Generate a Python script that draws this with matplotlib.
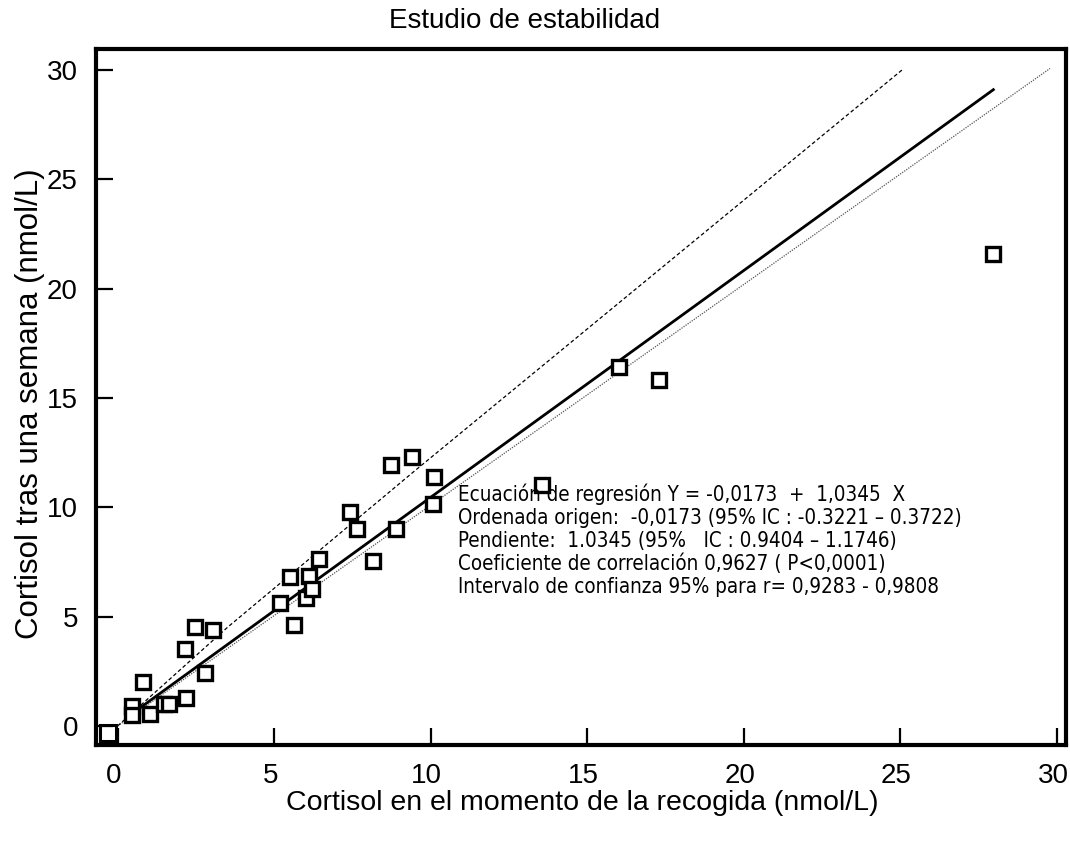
import matplotlib
matplotlib.use("Agg")
import matplotlib.pyplot as plt
import matplotlib.transforms as mtransforms
from matplotlib import font_manager

# ---- data ----
x_vals = [0.46, 0.46, 0.81, 1.04, 1.47, 1.64, 2.17, 2.14, 2.46, 3.05, 2.78,
          5.20, 5.50, 5.63, 6.01, 6.10, 6.22, 6.43, 7.41, 7.63, 8.16, 8.72,
          8.90, 9.39, 10.07, 10.11, 13.54, 16.02, 17.29, 27.97]
y_vals = [0.91, 0.50, 2.01, 0.53, 0.99, 0.99, 1.29, 3.51, 4.54, 4.39, 2.44,
          5.61, 6.80, 4.62, 5.84, 6.87, 6.25, 7.62, 9.80, 9.01, 7.56, 11.93,
          9.01, 12.29, 10.14, 11.40, 11.02, 16.40, 15.82, 21.58]
corner_x = [-0.30]
corner_y = [-0.30]

reg_x = [0.40, 27.97]
reg_y = [0.50, 29.10]
upper_x = [0.0, 3.5, 9.39, 25.07]
upper_y = [0.0, 4.5, 11.55, 30.02]
ident_x = [0.0, 29.78]
ident_y = [0.0, 30.07]

xticks = [0, 5, 10, 15, 20, 25, 30]
yticks = [0, 5, 10, 15, 20, 25, 30]

title = "Estudio de estabilidad"
xlabel = "Cortisol en el momento de la recogida (nmol/L)"
ylabel = "Cortisol tras una semana (nmol/L)"
annot_lines = [
    "Ecuación de regresión Y = -0,0173  +  1,0345  X",
    "Ordenada origen:  -0,0173 (95% IC : -0.3221 \u2013 0.3722)",
    "Pendiente:  1.0345 (95%   IC : 0.9404 \u2013 1.1746)",
    "Coeficiente de correlación 0,9627 ( P<0,0001)",
    "Intervalo de confianza 95% para r= 0,9283 - 0,9808",
]

plt.rcParams['font.family'] = ['Liberation Sans', 'DejaVu Sans']

names = {f.name for f in font_manager.fontManager.ttflist}
if 'Liberation Sans Narrow' in names:
    annot_family = ['Liberation Sans Narrow', 'DejaVu Sans']
    annot_kw = dict(fontsize=16.5)
else:
    annot_family = ['DejaVu Sans']
    annot_kw = dict(fontsize=14.8, fontstretch='condensed')

fig = plt.figure(figsize=(10.70, 8.46), dpi=100)
ax = fig.add_axes([96/1070, 1-745/846, (1066-96)/1070, (745-49)/846])

ax.set_xlim(-0.69, 30.29)
ax.set_ylim(-0.87, 30.96)

ax.plot(ident_x, ident_y, color='#555555', lw=0.9, ls=(0, (1, 1)), zorder=2)
ax.plot(upper_x, upper_y, color='black', lw=0.9, ls=(0, (3, 2)), zorder=2)
ax.plot(reg_x, reg_y, color='black', lw=2.0, zorder=3)
ax.plot(x_vals, y_vals, ls='none', marker='s', ms=10.5, mfc='white',
        mec='black', mew=2.4, zorder=4)
ax.plot(corner_x, corner_y, ls='none', marker='s', ms=12, mfc='white',
        mec='black', mew=2.2, zorder=1)

for s in ax.spines.values():
    s.set_linewidth(3)
    s.set_zorder(5)
ax.set_xticks(xticks)
ax.set_yticks(yticks)
ax.tick_params(direction='in', length=12, width=1.6, labelsize=20)
ax.tick_params(axis='x', pad=13)
ax.tick_params(axis='y', pad=13)
offset = mtransforms.ScaledTranslation(-4/100, 0, fig.dpi_scale_trans)
for lab in ax.get_xticklabels():
    lab.set_transform(lab.get_transform() + offset)

fig.text(525/1070, 1-21/846, title, ha='center', va='center', fontsize=20)
fig.text(582/1070, 1-803/846, xlabel, ha='center', va='center', fontsize=20.5)
fig.text(30/1070, 1-404/846, ylabel, ha='center', va='center', fontsize=22.5,
         rotation=90)

ys = [494, 518, 541, 564, 587]
for t, yy in zip(annot_lines, ys):
    fig.text(458/1070, 1-yy/846, t, ha='left', va='center',
             family=annot_family, zorder=10, **annot_kw)

fig.savefig("out.png", dpi=100)
